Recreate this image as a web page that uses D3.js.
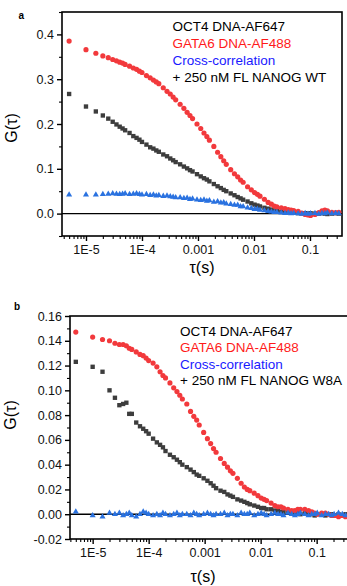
<!DOCTYPE html>
<html>
<head>
<meta charset="utf-8">
<script src="https://cdn.jsdelivr.net/npm/d3@7"></script>
<style>
  body { margin: 0; background: #fff; }
  svg { display: block; font-family: "Liberation Sans", Arial, sans-serif; }
</style>
</head>
<body>
<svg id="chart" width="347" height="586"></svg>
<script>
// lag times (s), shared by both panels
const tauLags = [5e-6, 1e-5, 1.5e-5, 2e-5, 2.5e-5, 3e-5, 3.5e-5, 4e-5, 4.5e-5, 5e-5,
  6e-5, 7e-5, 8e-5, 9e-5, 1e-4, 1.2e-4, 1.4e-4, 1.6e-4, 1.8e-4, 2e-4,
  2.4e-4, 2.8e-4, 3.2e-4, 3.6e-4, 4e-4, 4.8e-4, 5.6e-4, 6.4e-4, 7.2e-4, 8e-4,
  9.6e-4, 1.12e-3, 1.28e-3, 1.44e-3, 1.6e-3, 1.92e-3, 2.24e-3, 2.56e-3, 2.88e-3, 3.2e-3,
  3.84e-3, 4.48e-3, 5.12e-3, 5.76e-3, 6.4e-3, 7.68e-3, 8.96e-3, 0.01024, 0.01152, 0.0128,
  0.01536, 0.01792, 0.02048, 0.02304, 0.0256, 0.03072, 0.03584, 0.04096, 0.04608, 0.0512,
  0.06144, 0.07168, 0.08192, 0.09216, 0.1024, 0.12288, 0.14336, 0.16384, 0.18432, 0.2048,
  0.24576, 0.28672, 0.32768];

// panel a : + NANOG WT
const octA = [0.267, 0.239, 0.228, 0.219, 0.212, 0.205, 0.199, 0.194, 0.190, 0.186,
  0.180, 0.173, 0.169, 0.165, 0.160, 0.154, 0.148, 0.145, 0.141, 0.138,
  0.132, 0.128, 0.123, 0.119, 0.115, 0.110, 0.105, 0.101, 0.097, 0.094,
  0.088, 0.083, 0.079, 0.076, 0.072, 0.066, 0.061, 0.057, 0.053, 0.050,
  0.045, 0.041, 0.037, 0.034, 0.031, 0.027, 0.023, 0.020, 0.018, 0.016,
  0.013, 0.011, 0.009, 0.007, 0.006, 0.004, 0.003, 0.003, 0.002, 0.002,
  0.001, 0.001, 0.001, 0.000, 0.001, 0.000, 0.000, 0.001, 0.000, -0.001,
  0.000, 0.001, 0.000];
const gataA = [0.385, 0.366, 0.358, 0.352, 0.348, 0.344, 0.341, 0.338, 0.336, 0.333,
  0.329, 0.325, 0.322, 0.318, 0.315, 0.308, 0.303, 0.298, 0.294, 0.290,
  0.281, 0.273, 0.267, 0.260, 0.254, 0.244, 0.235, 0.226, 0.219, 0.212,
  0.200, 0.190, 0.180, 0.172, 0.164, 0.150, 0.137, 0.127, 0.118, 0.110,
  0.098, 0.089, 0.082, 0.075, 0.070, 0.060, 0.053, 0.047, 0.043, 0.039,
  0.032, 0.025, 0.021, 0.017, 0.015, 0.013, 0.011, 0.009, 0.008, 0.007,
  0.005, 0.001, -0.002, -0.003, -0.004, -0.002, 0.002, 0.006, 0.008, 0.006,
  0.003, 0.002, 0.003];
const crossA = [0.042, 0.042, 0.042, 0.043, 0.044, 0.045, 0.044, 0.043, 0.044, 0.045,
  0.043, 0.044, 0.045, 0.043, 0.042, 0.043, 0.041, 0.042, 0.040, 0.041,
  0.039, 0.040, 0.038, 0.037, 0.036, 0.036, 0.034, 0.035, 0.032, 0.033,
  0.031, 0.030, 0.031, 0.028, 0.029, 0.026, 0.027, 0.024, 0.025, 0.022,
  0.021, 0.019, 0.019, 0.016, 0.016, 0.013, 0.012, 0.010, 0.010, 0.008,
  0.007, 0.005, 0.004, 0.003, 0.003, 0.002, 0.001, 0.002, 0.000, 0.001,
  0.000, -0.001, 0.001, -0.001, 0.000, 0.001, -0.001, 0.001, 0.000, 0.002,
  0.000, 0.001, 0.000];

// panel b : + NANOG W8A
const octB = [0.123, 0.119, 0.115, 0.100, 0.094, 0.088, 0.089, 0.090, 0.081, 0.081,
  0.074, 0.071, 0.069, 0.067, 0.065, 0.061, 0.058, 0.056, 0.054, 0.051,
  0.048, 0.046, 0.044, 0.042, 0.040, 0.038, 0.036, 0.034, 0.032, 0.031,
  0.029, 0.027, 0.025, 0.023, 0.021, 0.019, 0.018, 0.016, 0.015, 0.014,
  0.012, 0.011, 0.010, 0.009, 0.008, 0.007, 0.006, 0.005, 0.005, 0.004,
  0.004, 0.003, 0.003, 0.002, 0.002, 0.002, 0.001, 0.001, 0.001, 0.000,
  0.001, 0.000, 0.000, -0.001, 0.000, 0.000, -0.001, 0.000, 0.000, -0.001,
  0.000, -0.001, 0.000];
const gataB = [0.147, 0.143, 0.141, 0.140, 0.138, 0.137, 0.137, 0.136, 0.134, 0.133,
  0.131, 0.129, 0.128, 0.126, 0.124, 0.122, 0.119, 0.115, 0.112, 0.110,
  0.106, 0.102, 0.099, 0.096, 0.093, 0.089, 0.083, 0.079, 0.076, 0.072,
  0.066, 0.061, 0.057, 0.053, 0.050, 0.045, 0.041, 0.038, 0.035, 0.033,
  0.029, 0.025, 0.022, 0.020, 0.019, 0.017, 0.015, 0.013, 0.012, 0.011,
  0.009, 0.007, 0.006, 0.006, 0.005, 0.004, 0.003, 0.003, 0.004, 0.004,
  0.004, 0.003, 0.002, 0.001, 0.000, 0.001, 0.001, 0.000, -0.001, -0.001,
  -0.002, -0.001, -0.002];
const crossB = [0.002, -0.001, -0.002, 0.001, 0.000, 0.001, -0.001, 0.000, 0.001, -0.001,
  -0.002, 0.000, 0.002, 0.001, 0.000, -0.001, 0.000, -0.001, 0.001, 0.000,
  -0.001, 0.000, 0.001, -0.001, 0.000, 0.000, -0.001, 0.001, 0.000, -0.001,
  0.000, 0.001, 0.000, -0.001, 0.000, 0.000, 0.001, -0.001, 0.000, 0.000,
  -0.001, 0.001, 0.000, 0.000, 0.001, -0.001, 0.000, 0.001, 0.000, -0.001,
  0.000, 0.001, 0.000, 0.000, -0.001, 0.001, 0.000, -0.001, 0.000, 0.001,
  0.000, -0.001, 0.000, 0.000, 0.001, -0.001, 0.000, 0.000, -0.001, 0.000,
  0.001, 0.000, -0.001];

const xTicks = [1e-5, 1e-4, 1e-3, 1e-2, 1e-1];
const xTickLabels = ["1E-5", "1E-4", "0.001", "0.01", "0.1"];
const yTicksA = [0, 0.1, 0.2, 0.3, 0.4];
const yTicksB = [-0.02, 0, 0.02, 0.04, 0.06, 0.08, 0.10, 0.12, 0.14, 0.16];
const legendA = ["OCT4 DNA-AF647", "GATA6 DNA-AF488", "Cross-correlation", "+ 250 nM FL NANOG WT"];
const legendB = ["OCT4 DNA-AF647", "GATA6 DNA-AF488", "Cross-correlation", "+ 250 nM FL NANOG W8A"];

const legendColors = ["#000000", "#ff1a1a", "#1a1aff", "#000000"];
const svg = d3.select("#chart");

function minorLogTicks(domain) {
  const out = [];
  for (let k = -7; k <= 1; k++)
    for (let m = 2; m <= 9; m++) {
      const t = m * Math.pow(10, k);
      if (t >= domain[0] && t <= domain[1]) out.push(t);
    }
  return out;
}

function drawPanel(p) {
  const x = d3.scaleLog().domain(p.xDomain).range([p.left, p.right]);
  const y = d3.scaleLinear().domain(p.yDomain).range([p.bottom, p.top]);
  const g = svg.append("g");

  // zero line
  g.append("line")
    .attr("x1", p.left).attr("x2", p.right)
    .attr("y1", y(0)).attr("y2", y(0))
    .attr("stroke", "#000").attr("stroke-width", 1.4);

  // x axis, major + minor
  const xMinor = d3.axisBottom(x).tickValues(minorLogTicks(p.xDomain)).tickFormat("").tickSize(3).tickSizeOuter(0);
  g.append("g").attr("transform", `translate(0,${p.bottom})`).call(xMinor)
    .call(s => s.select(".domain").remove())
    .selectAll("line").attr("stroke-width", 1.1);
  const xAxis = d3.axisBottom(x).tickValues(xTicks).tickFormat((d, i) => xTickLabels[i]).tickSize(5).tickPadding(4).tickSizeOuter(0);
  const xg = g.append("g").attr("transform", `translate(0,${p.bottom})`).call(xAxis);
  xg.select(".domain").remove();
  xg.selectAll("line").attr("stroke-width", 1.4);
  xg.selectAll("text").attr("font-size", 12.5).attr("fill", "#111").attr("font-family", "Liberation Sans, Arial, sans-serif");

  // y axis, major + minor
  const yMinor = d3.axisLeft(y).tickValues(p.yMinor).tickFormat("").tickSize(3).tickSizeOuter(0);
  g.append("g").attr("transform", `translate(${p.left},0)`).call(yMinor)
    .call(s => s.select(".domain").remove())
    .selectAll("line").attr("stroke-width", 1.1);
  const yAxis = d3.axisLeft(y).tickValues(p.yTicks).tickFormat(d => d.toFixed(p.decimals)).tickSize(5).tickPadding(3).tickSizeOuter(0);
  const yg = g.append("g").attr("transform", `translate(${p.left},0)`).call(yAxis);
  yg.select(".domain").remove();
  yg.selectAll("line").attr("stroke-width", 1.4);
  yg.selectAll("text").attr("font-size", 12.5).attr("fill", "#111").attr("font-family", "Liberation Sans, Arial, sans-serif");

  // frame
  g.append("rect")
    .attr("x", p.left).attr("y", p.top)
    .attr("width", p.right - p.left).attr("height", p.bottom - p.top)
    .attr("fill", "none").attr("stroke", "#000").attr("stroke-width", 1.6);

  // data
  const series = [
    { vals: p.oct, type: d3.symbolSquare, size: 19, color: "#3d3d3d" },
    { vals: p.gata, type: d3.symbolCircle, size: 21, color: "#f2393c" },
    { vals: p.cross, type: d3.symbolTriangle, size: 16, color: "#2a72e0" }
  ];
  series.forEach(s => {
    g.append("g").selectAll("path")
      .data(tauLags.map((t, i) => [t, s.vals[i]]))
      .join("path")
      .attr("transform", d => `translate(${x(d[0])},${y(d[1])})`)
      .attr("d", d3.symbol().type(s.type).size(s.size))
      .attr("fill", s.color);
  });

  // legend
  g.append("g").selectAll("text")
    .data(p.legend)
    .join("text")
    .attr("x", p.legendX)
    .attr("y", (d, i) => p.legendY + i * p.legendStep)
    .attr("font-size", 13.5)
    .attr("fill", (d, i) => legendColors[i])
    .text(d => d);

  // axis titles
  g.append("text")
    .attr("x", p.xTitleX).attr("y", p.xTitleY)
    .attr("text-anchor", "middle").attr("font-size", 16)
    .text("τ(s)");
  g.append("text")
    .attr("transform", `translate(${p.yTitleX},${p.yTitleY}) rotate(-90)`)
    .attr("text-anchor", "middle").attr("font-size", 16)
    .text("G(τ)");

  // panel letter
  g.append("text")
    .attr("x", p.letterX).attr("y", p.letterY)
    .attr("font-size", 10).attr("font-weight", "bold")
    .text(p.letter);
}

drawPanel({
  left: 62, right: 342, top: 12, bottom: 236,
  xDomain: [3.73e-6, 0.373], yDomain: [-0.05, 0.45],
  yTicks: yTicksA, yMinor: [-0.05, 0.05, 0.15, 0.25, 0.35, 0.45], decimals: 1,
  oct: octA, gata: gataA, cross: crossA,
  legend: legendA, legendX: 172.5, legendY: 30.5, legendStep: 17,
  xTitleX: 202, xTitleY: 273, yTitleX: 17, yTitleY: 128,
  letter: "a", letterX: 18.5, letterY: 18.5
});

drawPanel({
  left: 70, right: 350, top: 316, bottom: 539,
  xDomain: [3.94e-6, 0.394], yDomain: [-0.02, 0.16],
  yTicks: yTicksB, yMinor: [-0.01, 0.01, 0.03, 0.05, 0.07, 0.09, 0.11, 0.13, 0.15], decimals: 2,
  oct: octB, gata: gataB, cross: crossB,
  legend: legendB, legendX: 180, legendY: 336, legendStep: 16.4,
  xTitleX: 203, xTitleY: 582, yTitleX: 16, yTitleY: 415,
  letter: "b", letterX: 14, letterY: 310
});
</script>
</body>
</html>
